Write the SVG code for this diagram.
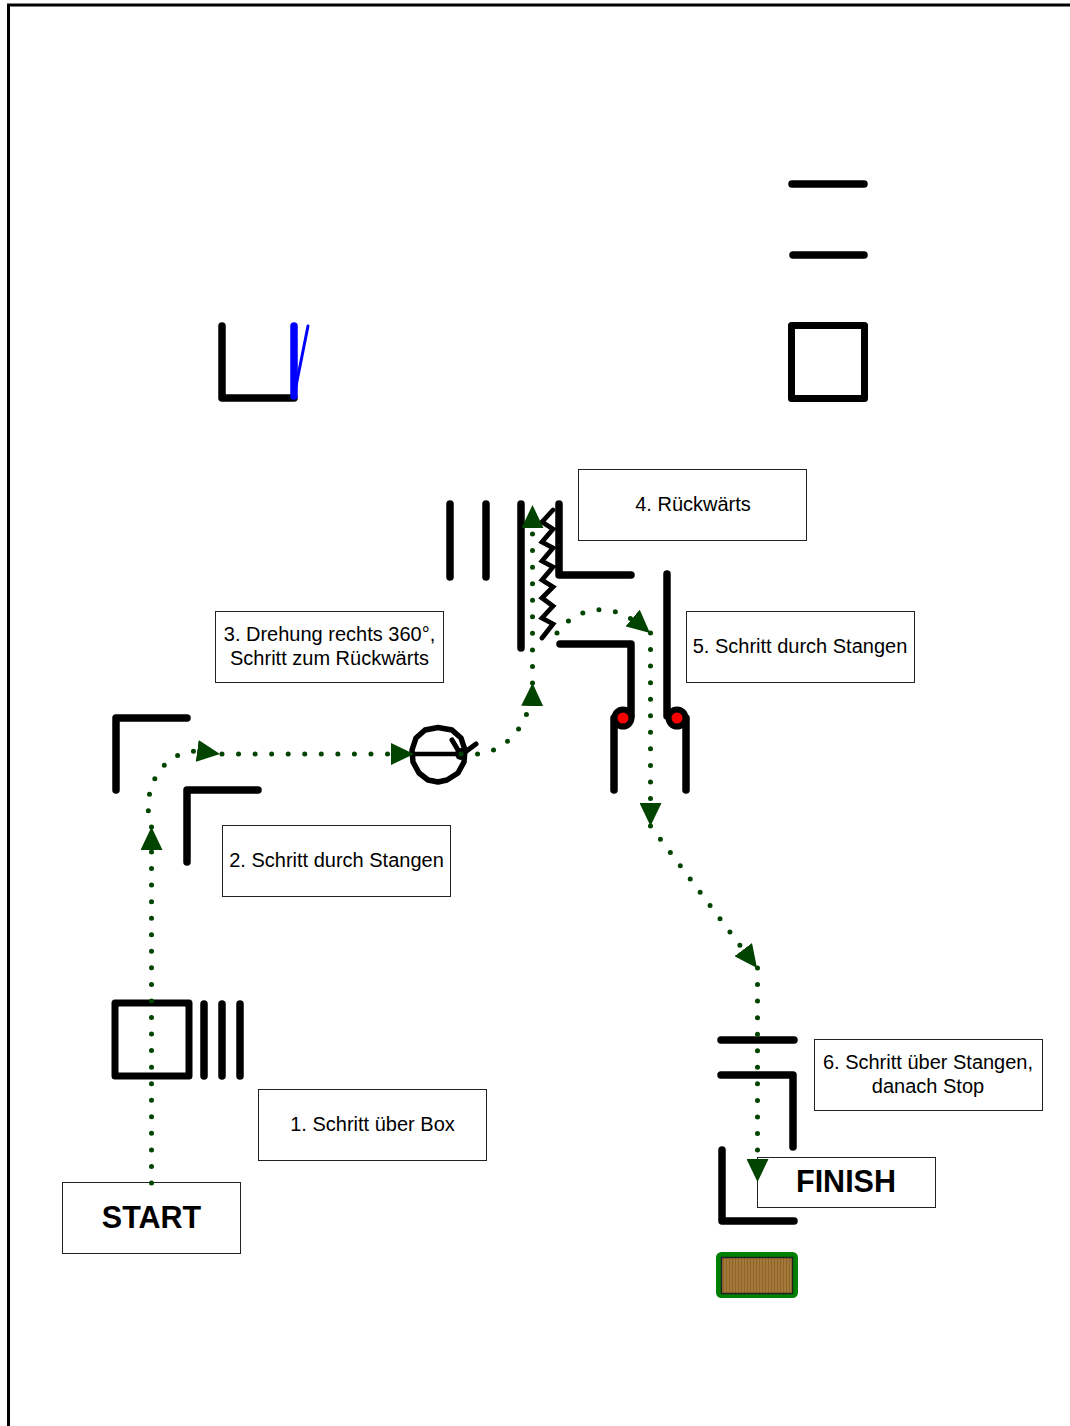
<svg xmlns="http://www.w3.org/2000/svg" width="1070" height="1426" viewBox="0 0 1070 1426">
<style>
.bar{fill:none;stroke:#000;stroke-width:7.5;stroke-linecap:round;stroke-linejoin:round}
.sq{fill:none;stroke:#000;stroke-width:7;stroke-linejoin:round}
.box{fill:#fff;stroke:#222;stroke-width:1}
.t{font-family:"Liberation Sans",Arial,sans-serif;font-size:20px;fill:#000;text-anchor:middle}
.b{font-family:"Liberation Sans",Arial,sans-serif;font-size:30.5px;font-weight:bold;fill:#000;text-anchor:middle}
.dot{fill:none;stroke:#004400;stroke-width:5;stroke-linecap:round;stroke-dasharray:0 16.55;marker-end:url(#arrow)}
</style>
<defs>
<marker id="arrow" viewBox="0 0 23 22" refX="23" refY="11" markerWidth="23" markerHeight="22" markerUnits="userSpaceOnUse" orient="auto"><polygon points="0,0 23,11 0,22" fill="#004400"/></marker>
<pattern id="wood" width="3" height="4" patternUnits="userSpaceOnUse"><rect width="3" height="4" fill="#a4783a"/><rect width="1" height="4" fill="#8f6528"/></pattern>
</defs>
<path id="border" d="M8.500,1426V5H1070" fill="none" stroke="#000" stroke-width="3"/>
<g id="box-obstacle"><rect class="sq" x="115" y="1003" width="74" height="73"/><path class="bar" d="M204,1004V1076M222,1004V1076M240,1004V1076"/></g>
<g id="gate-2"><path class="bar" d="M116,790V718H187"/><path class="bar" d="M187,862V790H258"/></g>
<g id="top-bars"><path class="bar" d="M792,184H864"/><path class="bar" d="M793,255H864"/></g>
<g id="top-square"><rect class="sq" x="791.500" y="325.500" width="73" height="73"/></g>
<g id="blue-gate"><path class="bar" d="M222,326V398H294"/><path d="M294,326V396" fill="none" stroke="#00f" stroke-width="7.500" stroke-linecap="round"/><path d="M308,326L294,396" fill="none" stroke="#00f" stroke-width="3" stroke-linecap="round"/></g>
<g id="turn-circle"><polygon points="438,727.500 452,730 461,738 465,750 464,762 458,773 447,780 438,782 428,780 419,773 413,762 412,750 416,738 425,730" fill="none" stroke="#000" stroke-width="5.500" stroke-linejoin="round"/><path d="M414,754H461" fill="none" stroke="#000" stroke-width="4.500"/><path d="M452,740L461,755L476,744" fill="none" stroke="#000" stroke-width="5" stroke-linecap="round"/><circle cx="461" cy="754" r="6" fill="#000"/></g>
<g id="backward-lane"><path class="bar" d="M450,504V577M486,504V577M521,504V648"/><path class="bar" d="M559,504V575H631"/><path d="M553,510L542,522L553,529L542,542L553,548L542,561L553,567L542,580L553,587L542,598L553,606L542,618L553,624L542,638" fill="none" stroke="#000" stroke-width="4.800" stroke-linecap="round"/></g>
<g id="gate-5"><path class="bar" d="M560,644H631V716"/><path class="bar" d="M667,574V716"/><path class="bar" d="M614,790V718"/><path class="bar" d="M686,790V718"/><circle cx="623" cy="718" r="8.500" fill="#f00" stroke="#000" stroke-width="6"/><circle cx="677" cy="718" r="8.500" fill="#f00" stroke="#000" stroke-width="6"/></g>
<g id="gate-6"><path class="bar" d="M721,1040H794"/><path class="bar" d="M721,1075H793V1147"/><path class="bar" d="M722,1150V1221H794"/></g>
<g id="mat"><rect x="718.500" y="1254.500" width="77" height="41" rx="3" fill="#a4783a" stroke="#008000" stroke-width="5"/><rect x="721.500" y="1257.500" width="71" height="36" fill="url(#wood)" stroke="#222" stroke-width="1.500"/></g>
<g id="label-start"><rect class="box" x="62.500" y="1182.500" width="178" height="71"/><text class="b" x="151.500" y="1228">START</text></g>
<g id="label-finish"><rect class="box" x="757.500" y="1157.500" width="178" height="50"/><text class="b" x="846" y="1192">FINISH</text></g>
<g id="label-1"><rect class="box" x="258.500" y="1089.500" width="228" height="71"/><text class="t" x="372.500" y="1131">1. Schritt über Box</text></g>
<g id="label-2"><rect class="box" x="222.500" y="825.500" width="228" height="71"/><text class="t" x="336.500" y="867">2. Schritt durch Stangen</text></g>
<g id="label-3"><rect class="box" x="215.500" y="611.500" width="228" height="71"/><text class="t" x="329.500" y="641">3. Drehung rechts 360°,</text><text class="t" x="329.500" y="665">Schritt zum Rückwärts</text></g>
<g id="label-4"><rect class="box" x="578.500" y="469.500" width="228" height="71"/><text class="t" x="693" y="511">4. Rückwärts</text></g>
<g id="label-5"><rect class="box" x="686.500" y="611.500" width="228" height="71"/><text class="t" x="800" y="653">5. Schritt durch Stangen</text></g>
<g id="label-6"><rect class="box" x="814.500" y="1039.500" width="228" height="71"/><text class="t" x="928" y="1069">6. Schritt über Stangen,</text><text class="t" x="928" y="1093">danach Stop</text></g>
<g id="connectors">
<path class="dot" d="M151.500,1183V827"/>
<path class="dot" d="M151.500,827L148,809C148,780 165,752 197,751L220,754"/>
<path class="dot" d="M222,754H414"/>
<path class="dot" d="M461,754H478C505,752 532,725 532.500,683"/>
<path class="dot" d="M532.500,683V505"/>
<path class="dot" d="M557,633C570,615 590,608 605,610C622,611 636,621 650,633"/>
<path class="dot" d="M650.500,633V826"/>
<path class="dot" d="M650.500,826L757,968"/>
<path class="dot" d="M757.500,968V1182"/>
</g>
</svg>
